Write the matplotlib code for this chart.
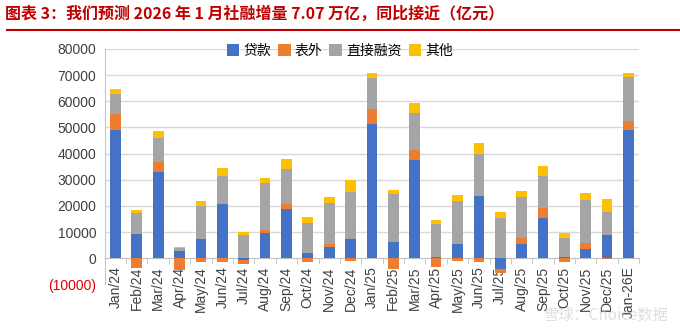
import numpy as np
import matplotlib.pyplot as plt
from matplotlib.ticker import FuncFormatter, FixedLocator

plt.rcParams['font.family'] = ['Liberation Sans', 'Noto Sans CJK SC', 'DejaVu Sans']

months = ['Jan/24', 'Feb/24', 'Mar/24', 'Apr/24', 'May/24', 'Jun/24', 'Jul/24', 'Aug/24',
          'Sep/24', 'Oct/24', 'Nov/24', 'Dec/24', 'Jan/25', 'Feb/25', 'Mar/25', 'Apr/25',
          'May/25', 'Jun/25', 'Jul/25', 'Aug/25', 'Sep/25', 'Oct/25', 'Nov/25', 'Dec/25', 'Jan-26E']
loans = [49100, 9300, 33000, 2700, 7400, 20800, -800, 9600, 18900, 1900, 4400, 7400,
         51400, 6000, 37600, 500, 5600, 23600, -4300, 5600, 15500, 300, 3600, 8800, 48900]
off_balance = [5900, -3600, 3900, -4500, -1300, -1500, -1500, 1000, 1800, -1500, 900, -1000,
               5800, -4000, 3600, -3200, -1000, -1300, -1300, 2300, 3600, -1300, 2100, -500, 3700]
direct = [7800, 7800, 9100, 1300, 12600, 10700, 8700, 18100, 13500, 11700, 15900, 17900,
          11800, 18700, 14400, 12400, 16300, 16100, 15400, 15600, 12400, 7500, 16400, 8900, 16500]
other = [2000, 1400, 2600, 200, 1900, 3100, 1500, 1900, 3700, 2200, 2300, 4700,
         1700, 1400, 3600, 1800, 2300, 4300, 2100, 2300, 3800, 2000, 2800, 5000, 1800]

names = ['贷款', '表外', '直接融资', '其他']
colors = ['#4472C4', '#ED7D31', '#A5A5A5', '#FFC000']

fig = plt.figure(figsize=(6.8, 3.31), dpi=100)
ax = fig.add_axes([0.154, 0.141, 0.786, 0.711])

x = np.arange(len(months))
pos_base = np.zeros(len(months))
neg_base = np.zeros(len(months))
for vals, name, c in zip([loans, off_balance, direct, other], names, colors):
    v = np.array(vals, dtype=float)
    bottom = np.where(v >= 0, pos_base, neg_base)
    ax.bar(x, v, 0.5, bottom=bottom, color=c, label=name, zorder=3)
    pos_base += np.where(v >= 0, v, 0)
    neg_base += np.where(v < 0, v, 0)

ax.set_xlim(-0.5, len(months) - 0.5)
ax.set_ylim(-10000, 80000)
ax.set_yticks(np.arange(-10000, 80001, 10000))
ax.yaxis.set_major_formatter(FuncFormatter(lambda v, p: '(%d)' % abs(v) if v < 0 else '%d' % v))
ax.tick_params(axis='y', length=0, labelsize=10, pad=6)
for lab in ax.get_yticklabels():
    lab.set_color('#E00000' if lab.get_text().startswith('(') else '#404040')

for yv in range(10000, 80001, 10000):
    ax.axhline(yv, color='#D9D9D9', lw=1, zorder=1)

ax.spines['bottom'].set_position(('data', 0))
ax.spines['bottom'].set_color('#BFBFBF')
ax.spines['left'].set_color('#B4C7E7')
ax.spines['top'].set_visible(False)
ax.spines['right'].set_visible(False)
ax.set_xticks(x)
ax.set_xticklabels(months, rotation=90, fontsize=10, color='#404040')
ax.tick_params(axis='x', length=0, pad=6)
ax.xaxis.set_minor_locator(FixedLocator(np.arange(-0.5, len(months), 1)))
ax.tick_params(axis='x', which='minor', length=4, color='#BFBFBF', direction='out')

ax.legend(loc='upper center', bbox_to_anchor=(0.44, 1.075), ncol=4, frameon=False,
          prop={'family': ['Noto Sans CJK SC'], 'size': 10}, handlelength=0.9,
          handleheight=0.9, columnspacing=0.5, handletextpad=0.3)

fig.text(0.008, 0.96, '图表 3：我们预测 2026 年 1 月社融增量 7.07 万亿，同比接近（亿元）',
         fontsize=11.5, fontweight='bold', color='#C00000', va='center',
         family=['Noto Sans CJK SC', 'DejaVu Sans'])
fig.add_artist(plt.Line2D([0.01, 1.0], [0.91, 0.91], color='#C00000', lw=1.5))

fig.text(0.8, 0.035, '雪球：Choice数据', fontsize=11, color='#C8C8C8', alpha=0.6,
         family=['Noto Sans CJK SC', 'DejaVu Sans'], zorder=0)

fig.savefig('out.png', dpi=100)
